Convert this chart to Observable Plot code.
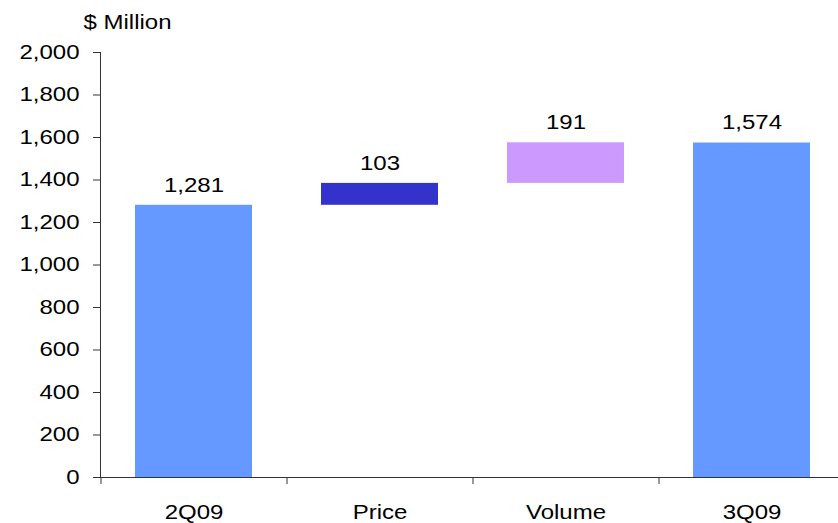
<!DOCTYPE html>
<html>
<head>
<meta charset="utf-8">
<script src="https://cdn.jsdelivr.net/npm/d3@7"></script>
<script src="https://cdn.jsdelivr.net/npm/@observablehq/plot@0.6"></script>
<style>
  html, body { margin: 0; padding: 0; background: #fff; }
</style>
</head>
<body>
<div id="chart"></div>
<script>
const categories = ["2Q09", "Price", "Volume", "3Q09"];
const values = [1281, 103, 191, 1574];
const kinds = ["total", "delta", "delta", "total"];
const barColors = ["#6699FF", "#3333CC", "#CC99FF", "#6699FF"];
const yTicks = [0, 200, 400, 600, 800, 1000, 1200, 1400, 1600, 1800, 2000];
const unitLabel = "$ Million";

let run = 0;
const rows = categories.map((cat, i) => {
  let y1, y2;
  if (kinds[i] === "total") { y1 = 0; y2 = values[i]; run = values[i]; }
  else { y1 = run; y2 = run + values[i]; run = y2; }
  return { cat, value: values[i], y1, y2, color: barColors[i] };
});

const fmt = d3.format(",");
const FS = 20;
const STRETCH = 1.2;

const chart = Plot.plot({
  width: 838,
  height: 523,
  marginLeft: 100,
  marginRight: 0,
  marginTop: 52,
  marginBottom: 46,
  style: { fontFamily: "'Liberation Sans', Arial, sans-serif", fontSize: FS + "px", color: "#000", background: "#fff" },
  x: { domain: categories, range: [100, 845], paddingInner: 0.37, paddingOuter: 0.185, label: null },
  y: { domain: [0, 2000], label: null },
  color: { type: "identity" },
  marks: [
    Plot.barY(rows, { x: "cat", y1: "y1", y2: "y2", fill: "color" }),
    Plot.ruleY([0], { stroke: "#333" }),
    Plot.frame({ anchor: "left", stroke: "#333" }),
    Plot.axisY({ ticks: yTicks, tickFormat: fmt, tickSize: 7, tickPadding: 14, stroke: "#333", fill: "#000", fontSize: FS }),
    Plot.axisX({ tickSize: 0, tickPadding: 27, fill: "#000", fontSize: FS }),
    Plot.ruleX(categories, { x: d => d, y1: 0, y2: 0, dx: -93, insetBottom: -7, stroke: "#333" }),
    Plot.text(rows, { x: "cat", y: "y2", text: d => fmt(d.value), dy: -20, lineAnchor: "middle", fill: "#000", fontSize: FS }),
    Plot.text([unitLabel], { text: d => d, frameAnchor: "top-left", textAnchor: "start", dx: -17, dy: -30, lineAnchor: "middle", fill: "#000", fontSize: FS })
  ]
});
document.getElementById("chart").appendChild(chart);
// The reference's lettering is horizontally widened; mimic that.
chart.querySelectorAll("text").forEach(el => {
  const L = el.getComputedTextLength();
  if (L > 0) {
    el.setAttribute("textLength", (L * STRETCH).toFixed(2));
    el.setAttribute("lengthAdjust", "spacingAndGlyphs");
  }
});
</script>
</body>
</html>
